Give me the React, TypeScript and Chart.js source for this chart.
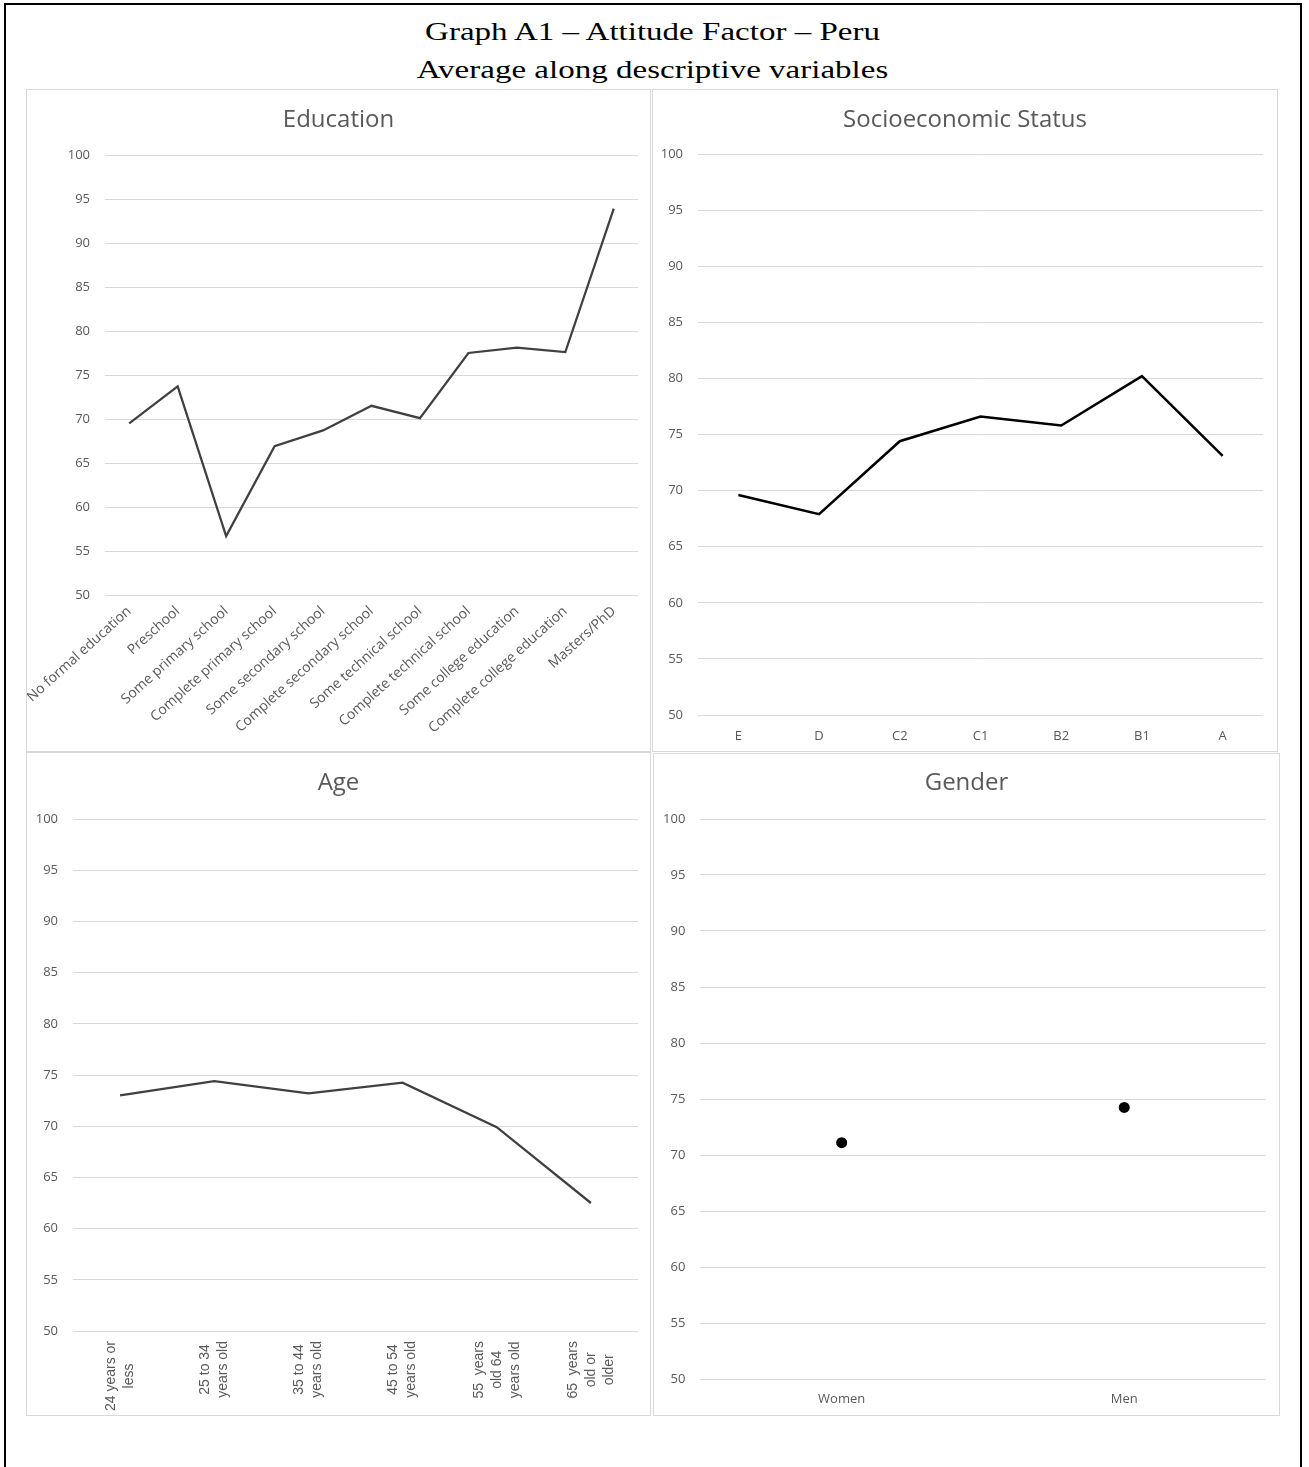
import React, { useEffect, useRef } from "react";
import { Chart, registerables } from "chart.js";

Chart.register(...registerables);

// ---------------- data ----------------
const eduLabels = [
  "No formal education",
  "Preschool",
  "Some primary school",
  "Complete primary school",
  "Some secondary school",
  "Complete secondary school",
  "Some technical school",
  "Complete technical school",
  "Some college education",
  "Complete college education",
  "Masters/PhD",
];
const eduValues = [69.5, 73.7, 56.7, 66.9, 68.7, 71.5, 70.1, 77.5, 78.1, 77.6, 93.9];

const sesLabels = ["E", "D", "C2", "C1", "B2", "B1", "A"];
const sesValues = [69.6, 67.9, 74.4, 76.6, 75.8, 80.2, 73.1];

const ageLabels = [
  ["24 years or", "less"],
  ["25 to 34", "years old"],
  ["35 to 44", "years old"],
  ["45 to 54", "years old"],
  ["55  years", "old 64", "years old"],
  ["65  years", "old or", "older"],
];
const ageValues = [73.0, 74.4, 73.2, 74.25, 69.9, 62.5];

const genderLabels = ["Women", "Men"];
const genderValues = [71.1, 74.25];

const yMin = 50;
const yMax = 100;
const yStep = 5;

const mainTitle1 = "Graph A1 \u2013 Attitude Factor \u2013 Peru";
const mainTitle2 = "Average along descriptive variables";

// ---------------- styling ----------------
const TEXT = "#595959";
const GRID = "#d9d9d9";
const FONT = "'Open Sans', 'DejaVu Sans', sans-serif";

type PanelSpec = {
  title: string;
  labels: any[];
  values: number[];
  box: { left: number; top: number; width: number; height: number };
  titlePadTop: number;
  titlePadBottom: number;
  leftW: number;
  rightW: number;
  padBottom: number;
  xHeight: number;
  xPadding: number;
  xFont: number;
  rotation: number;
  lineColor: string;
  lineWidth: number;
  points: boolean;
  customAge?: boolean;
};

const ageLabelPlugin = {
  id: "ageLabels",
  afterDraw(chart: any) {
    const opts = chart.options.plugins.ageLabels;
    if (!opts || !opts.enabled) return;
    const xs = chart.scales.x;
    const ctx = chart.ctx;
    const lh = 18;
    ctx.save();
    ctx.font = "14px 'Liberation Sans', Arial, sans-serif";
    ctx.fillStyle = TEXT;
    ctx.textAlign = "center";
    ctx.textBaseline = "middle";
    opts.labels.forEach((lines: string[], i: number) => {
      const cx = xs.getPixelForTick(i);
      const maxW = Math.max(...lines.map((l) => ctx.measureText(l).width));
      const top = chart.chartArea.bottom + 10;
      ctx.save();
      ctx.translate(cx, top + maxW / 2);
      ctx.rotate(-Math.PI / 2);
      lines.forEach((l, j) => {
        ctx.fillText(l, 0, (j - (lines.length - 1) / 2) * lh);
      });
      ctx.restore();
    });
    ctx.restore();
  },
};

function Panel({ spec }: { spec: PanelSpec }) {
  const ref = useRef<HTMLCanvasElement | null>(null);
  const cw = spec.box.width - 2;
  const ch = spec.box.height - 2;

  useEffect(() => {
    if (!ref.current) return;
    const chart = new Chart(ref.current, {
      type: "line",
      data: {
        labels: spec.labels,
        datasets: [
          {
            data: spec.values,
            borderColor: spec.lineColor,
            backgroundColor: spec.lineColor,
            borderWidth: spec.lineWidth,
            showLine: !spec.points,
            pointRadius: spec.points ? 5.5 : 0,
            pointBackgroundColor: "#000",
            pointBorderColor: "#000",
            pointBorderWidth: 0,
            tension: 0,
            fill: false,
            yAxisID: "y",
          },
        ],
      },
      options: {
        animation: false,
        responsive: false,
        maintainAspectRatio: false,
        events: [],
        layout: {
          padding: { left: 0, right: 0, top: 0, bottom: spec.padBottom },
        },
        plugins: {
          legend: { display: false },
          tooltip: { enabled: false },
          title: {
            display: true,
            text: spec.title,
            color: TEXT,
            font: { family: FONT, size: 24, weight: "normal", lineHeight: 1.2 },
            padding: { top: spec.titlePadTop, bottom: spec.titlePadBottom },
          },
          // @ts-ignore
          ageLabels: { enabled: !!spec.customAge, labels: spec.labels },
        },
        scales: {
          x: {
            offset: true,
            grid: { display: false, drawTicks: false },
            border: { display: false },
            ticks: {
              display: !spec.customAge,
              color: TEXT,
              font: { family: FONT, size: spec.xFont },
              padding: spec.xPadding,
              minRotation: spec.rotation,
              maxRotation: spec.rotation,
              autoSkip: false,
            },
            afterFit: (s: any) => {
              s.height = spec.xHeight;
              s.paddingLeft = 0;
              s.paddingRight = 0;
            },
          },
          y: {
            position: "left",
            min: yMin,
            max: yMax,
            grid: { color: GRID, lineWidth: 1, drawTicks: false },
            border: { display: false },
            ticks: {
              stepSize: yStep,
              color: TEXT,
              font: { family: FONT, size: 13 },
              padding: 15,
            },
            afterFit: (s: any) => {
              s.width = spec.leftW;
            },
          },
          yRight: {
            position: "right",
            display: true,
            grid: { display: false, drawTicks: false },
            border: { display: false },
            ticks: { display: false },
            afterFit: (s: any) => {
              s.width = spec.rightW;
            },
          },
        },
      } as any,
      plugins: [ageLabelPlugin],
    });
    return () => chart.destroy();
  }, []);

  return (
    <div
      style={{
        position: "absolute",
        left: spec.box.left,
        top: spec.box.top,
        width: spec.box.width,
        height: spec.box.height,
        border: "1px solid " + GRID,
        boxSizing: "border-box",
        background: "#fff",
      }}
    >
      <canvas ref={ref} width={cw} height={ch} style={{ display: "block", width: cw, height: ch }} />
    </div>
  );
}

const panels: PanelSpec[] = [
  {
    title: "Education",
    labels: eduLabels,
    values: eduValues,
    box: { left: 26, top: 89, width: 625, height: 663 },
    titlePadTop: 15.6,
    titlePadBottom: 20.6,
    leftW: 78,
    rightW: 12,
    padBottom: 10,
    xHeight: 146,
    xPadding: 8,
    xFont: 14,
    rotation: 42,
    lineColor: "#404040",
    lineWidth: 2.25,
    points: false,
  },
  {
    title: "Socioeconomic Status",
    labels: sesLabels,
    values: sesValues,
    box: { left: 652, top: 89, width: 626, height: 663 },
    titlePadTop: 15.6,
    titlePadBottom: 19.6,
    leftW: 45,
    rightW: 14,
    padBottom: 0,
    xHeight: 36,
    xPadding: 13,
    xFont: 13,
    rotation: 0,
    lineColor: "#000000",
    lineWidth: 2.5,
    points: false,
  },
  {
    title: "Age",
    labels: ageLabels,
    values: ageValues,
    box: { left: 26, top: 752, width: 625, height: 664 },
    titlePadTop: 15.9,
    titlePadBottom: 21.3,
    leftW: 46,
    rightW: 12,
    padBottom: 0,
    xHeight: 84,
    xPadding: 10,
    xFont: 13,
    rotation: 0,
    lineColor: "#404040",
    lineWidth: 2.25,
    points: false,
    customAge: true,
  },
  {
    title: "Gender",
    labels: genderLabels,
    values: genderValues,
    box: { left: 653, top: 753, width: 627, height: 663 },
    titlePadTop: 14.9,
    titlePadBottom: 21.3,
    leftW: 46.4,
    rightW: 13.5,
    padBottom: 0,
    xHeight: 36,
    xPadding: 12,
    xFont: 13,
    rotation: 0,
    lineColor: "#000000",
    lineWidth: 2,
    points: true,
  },
];

export default function App() {
  const titleStyle: React.CSSProperties = {
    position: "absolute",
    left: 0,
    width: 1305,
    textAlign: "center",
    fontFamily: "'Liberation Serif', 'Times New Roman', serif",
    fontSize: 26,
    lineHeight: "26px",
    color: "#000",
    whiteSpace: "nowrap",
    transform: "scaleX(1.27)",
    transformOrigin: "652.5px 0",
  };
  return (
    <div
      style={{
        position: "absolute",
        left: 0,
        top: 0,
        width: 1309,
        height: 1467,
        overflow: "hidden",
        background: "#fff",
      }}
    >
      <div
        style={{
          position: "absolute",
          left: 4,
          top: 3,
          width: 1298,
          height: 1500,
          border: "2.5px solid #000",
          boxSizing: "border-box",
        }}
      />
      <div style={{ ...titleStyle, top: 19 }}>{mainTitle1}</div>
      <div style={{ ...titleStyle, top: 57 }}>{mainTitle2}</div>
      {panels.map((p, i) => (
        <Panel key={i} spec={p} />
      ))}
    </div>
  );
}
